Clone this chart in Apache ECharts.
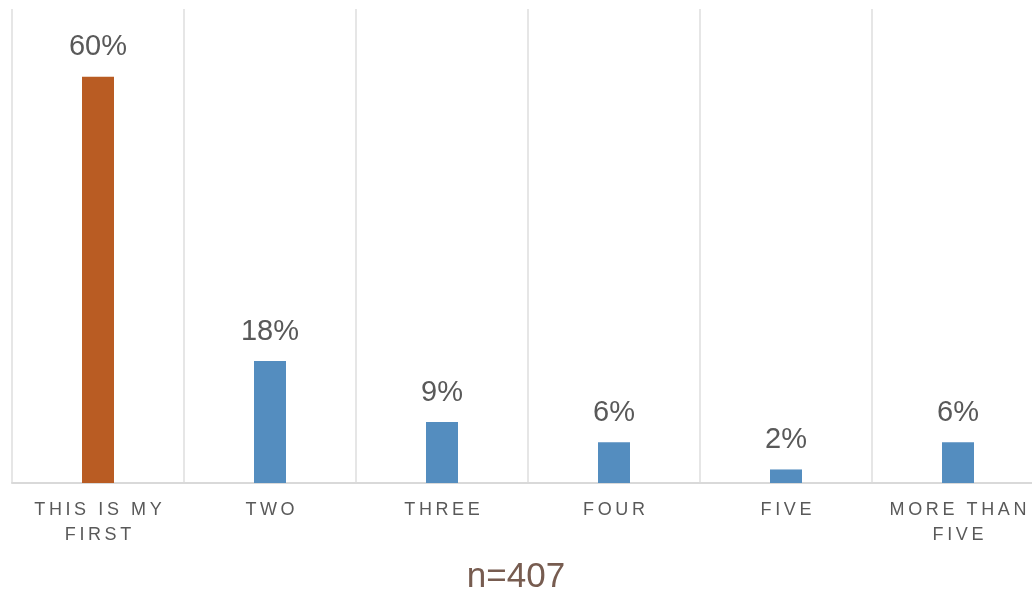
<!DOCTYPE html>
<html>
<head>
<meta charset="utf-8">
<script src="https://cdn.jsdelivr.net/npm/echarts@6/dist/echarts.min.js"></script>
<style>
    html, body { margin: 0; padding: 0; background: #fff; }
    #chart { width: 1032px; height: 594px; }
</style>
</head>
<body>
<div id="chart"></div>
<script>
var categories = ['THIS IS MY\nFIRST', 'TWO', 'THREE', 'FOUR', 'FIVE', 'MORE THAN\nFIVE'];
var values = [60, 18, 9, 6, 2, 6];
var barColors = ['#b95c23', '#548dbf', '#548dbf', '#548dbf', '#548dbf', '#548dbf'];
var sampleNote = 'n=407';

// canvas has no letter-spacing, so put thin spaces between letters
function spaced(s) {
    return s.split('\n').map(function (line) {
        return line.split('').join('\u2009');
    }).join('\n');
}

var myChart = echarts.init(document.getElementById('chart'));

var option = {
    animation: false,
    title: {
        text: sampleNote,
        left: 'center',
        top: 555,
        textStyle: {
            fontFamily: 'Liberation Sans',
            fontSize: 35,
            fontWeight: 'normal',
            color: '#775c50'
        }
    },
    // the last column runs past the right edge in the original
    grid: {
        left: 12,
        width: 1032,
        top: 9,
        bottom: 111,
        outerBoundsMode: 'none'
    },
    xAxis: {
        type: 'category',
        data: categories,
        boundaryGap: true,
        axisLine: { lineStyle: { color: '#d9d9d9', width: 2 } },
        axisTick: { show: false },
        splitLine: { show: true, lineStyle: { color: '#dedede', width: 1.5 } },
        axisLabel: {
            interval: 0,
            margin: 15,
            fontFamily: 'Liberation Sans',
            fontSize: 18,
            lineHeight: 25,
            color: '#595959',
            formatter: spaced
        }
    },
    yAxis: {
        type: 'value',
        min: 0,
        max: 70,
        show: false,
        splitLine: { show: false }
    },
    series: [{
        type: 'bar',
        barWidth: 32,
        data: values.map(function (v, i) {
            return { value: v, itemStyle: { color: barColors[i] } };
        }),
        label: {
            show: true,
            position: 'top',
            distance: 15,
            fontFamily: 'Liberation Sans',
            fontSize: 29,
            color: '#595959',
            formatter: '{c}%'
        }
    }]
};

myChart.setOption(option);
</script>
</body>
</html>
